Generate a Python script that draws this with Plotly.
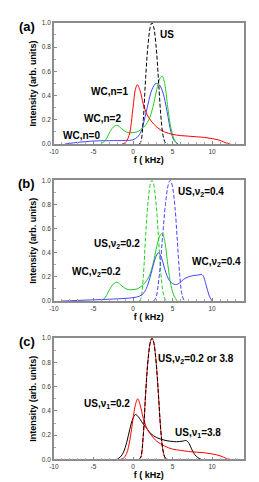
import plotly.graph_objects as go

# ---------- data ----------
# Panel (a)
us_a_f = [0.8, 1.0, 1.3, 1.6, 1.9, 2.2, 2.4, 2.6, 2.9, 3.2, 3.5, 3.8, 4.1, 4.4]
us_a_i = [0.0, 0.02, 0.2, 0.55, 0.82, 0.97, 1.0, 0.97, 0.82, 0.55, 0.25, 0.07, 0.01, 0.0]

wc1_f = [-1.4, -1.0, -0.5, 0.0, 0.3, 0.55, 0.9, 1.3, 1.8, 2.3, 3.0, 4.0, 5.0, 6.0, 7.0, 8.0, 9.0, 10.0, 11.0, 11.8, 12.3]
wc1_i = [0.0, 0.01, 0.07, 0.3, 0.45, 0.49, 0.44, 0.33, 0.24, 0.19, 0.14, 0.10, 0.08, 0.07, 0.065, 0.06, 0.055, 0.045, 0.03, 0.008, 0.0]

wc0_f = [-8.6, -7.5, -6.0, -5.0, -3.0, -1.0, 0.0, 0.6, 1.0, 1.4, 1.9, 2.4, 2.9, 3.3, 3.8, 4.3, 4.8, 5.2, 5.7]
wc0_i = [0.0, 0.01, 0.02, 0.025, 0.028, 0.03, 0.035, 0.06, 0.1, 0.19, 0.33, 0.45, 0.5, 0.49, 0.42, 0.27, 0.1, 0.03, 0.0]

wc2_f = [-4.1, -3.5, -3.0, -2.5, -2.0, -1.5, -1.0, -0.5, 0.0, 0.5, 1.0, 1.5, 2.0, 2.5, 3.0, 3.4, 3.7, 4.0, 4.4, 4.8, 5.2, 5.6]
wc2_i = [0.0, 0.03, 0.09, 0.14, 0.155, 0.13, 0.105, 0.093, 0.095, 0.1, 0.12, 0.15, 0.2, 0.3, 0.45, 0.54, 0.56, 0.5, 0.3, 0.13, 0.04, 0.0]

# Panel (b)
us02_f = [0.8, 1.0, 1.3, 1.6, 1.9, 2.2, 2.4, 2.6, 2.9, 3.2, 3.5, 3.8, 4.1, 4.4]
us02_i = [0.0, 0.02, 0.2, 0.55, 0.82, 0.97, 1.0, 0.97, 0.82, 0.55, 0.25, 0.07, 0.01, 0.0]

us04_f = [2.6, 2.9, 3.3, 3.7, 4.1, 4.45, 4.7, 4.95, 5.3, 5.6, 5.9, 6.2, 6.5]
us04_i = [0.0, 0.03, 0.2, 0.5, 0.8, 0.96, 1.0, 0.96, 0.78, 0.5, 0.22, 0.05, 0.0]

wc02_f = wc2_f
wc02_i = wc2_i

wc04_f = [-9.0, -7.0, -5.0, -3.0, -1.0, 0.0, 0.8, 1.4, 1.9, 2.3, 2.8, 3.2, 3.6, 3.9, 4.5, 5.0, 5.4, 5.9, 6.4, 7.0, 7.6, 8.2, 8.75, 9.25, 9.6, 10.0]
wc04_i = [0.0, 0.005, 0.01, 0.015, 0.022, 0.028, 0.04, 0.07, 0.14, 0.23, 0.35, 0.40, 0.36, 0.29, 0.18, 0.145, 0.136, 0.15, 0.18, 0.2, 0.21, 0.215, 0.217, 0.13, 0.05, 0.0]

# Panel (c)
usv2_f = us_a_f
usv2_i = us_a_i

usv1a_f = [-1.6, -1.2, -0.8, -0.4, 0.0, 0.3, 0.6, 0.9, 1.3, 1.8, 2.3, 3.0, 4.0, 5.0, 6.0, 7.0, 8.0, 9.0, 10.0, 11.0, 11.8, 12.3]
usv1a_i = [0.0, 0.01, 0.05, 0.16, 0.33, 0.45, 0.50, 0.45, 0.34, 0.25, 0.2, 0.15, 0.11, 0.085, 0.075, 0.065, 0.06, 0.055, 0.045, 0.03, 0.008, 0.0]

usv1b_f = [-2.1, -1.6, -1.2, -0.8, -0.4, 0.0, 0.3, 0.7, 1.2, 1.8, 2.3, 3.0, 3.9, 4.7, 5.5, 6.2, 6.75, 7.1, 7.4, 7.8, 8.2, 8.6]
usv1b_i = [0.0, 0.02, 0.06, 0.14, 0.25, 0.34, 0.37, 0.35, 0.3, 0.25, 0.21, 0.18, 0.16, 0.15, 0.146, 0.15, 0.155, 0.13, 0.087, 0.04, 0.015, 0.0]

y_ticks = [0.0, 0.2, 0.4, 0.6, 0.8, 1.0]
y_tick_text = ["0.0", "0.2", "0.4", "0.6", "0.8", "1.0"]
x_ticks = [-10, -5, 0, 5, 10]
x_tick_text = ["-10", "-5", "0", "5", "10"]

# ---------- figure ----------
W, H = 259, 482
fig = go.Figure()

RED = "#ff0000"
BLUE = "#4444ff"
GREEN = "#22cc22"
BLACK = "#000000"
DASH = "4px,2px"

def add(f, i, color, axis, dash="solid", width=1):
    fig.add_trace(go.Scatter(x=f, y=i, mode="lines", line=dict(color=color, width=width, dash=dash, shape="spline"),
                             xaxis="x" + axis, yaxis="y" + axis, showlegend=False, hoverinfo="skip"))

# (a)
add(wc0_f, wc0_i, BLUE, "")
add(wc2_f, wc2_i, GREEN, "")
add(wc1_f, wc1_i, RED, "")
add(us_a_f, us_a_i, BLACK, "", dash=DASH)
# (b)
add(us02_f, us02_i, GREEN, "2", dash=DASH)
add(us04_f, us04_i, BLUE, "2", dash=DASH)
add(wc02_f, wc02_i, GREEN, "2")
add(wc04_f, wc04_i, BLUE, "2")
# (c)
add(usv1b_f, usv1b_i, BLACK, "3")
add(usv1a_f, usv1a_i, RED, "3")
add(usv2_f, usv2_i, RED, "3")
add(usv2_f, usv2_i, BLACK, "3", dash=DASH)

x_dom = [41.7 / W, 235.3 / W]
y_doms = [[348 / H, 471 / H], [188.7 / H, 311.3 / H], [28 / H, 151 / H]]

axis_font = dict(family="Arial, Liberation Sans, sans-serif", size=6.5, color="#333333")
title_font = dict(family="Arial, Liberation Sans, sans-serif", size=9, color="#000000")

layout = dict(width=W, height=H, margin=dict(l=0, r=0, t=0, b=0),
              paper_bgcolor="white", plot_bgcolor="white", showlegend=False)

for k, sfx in enumerate(["", "2", "3"]):
    xa = "xaxis" + sfx
    ya = "yaxis" + sfx
    layout[xa] = dict(domain=x_dom, range=[-10, 14], anchor="y" + sfx,
                      tickvals=x_ticks, ticktext=x_tick_text, tickfont=axis_font,
                      ticks="inside", ticklen=3, tickcolor="#888888", tickwidth=1,
                      minor=dict(ticks="inside", ticklen=2, dtick=1, tickcolor="#aaaaaa"),
                      showline=True, linecolor="#8c8c8c", linewidth=1.5, mirror=True,
                      showgrid=False, zeroline=False, ticklabelstandoff=0,
                      title=dict(text="<b>f ( kHz)</b>", font=title_font, standoff=2))
    layout[ya] = dict(domain=y_doms[k], range=[0, 1.0], anchor="x" + sfx,
                      tickvals=y_ticks, ticktext=y_tick_text, tickfont=axis_font,
                      ticks="inside", ticklen=3, tickcolor="#888888", tickwidth=1,
                      minor=dict(ticks="inside", ticklen=2, dtick=0.1, tickcolor="#aaaaaa"),
                      showline=True, linecolor="#8c8c8c", linewidth=1.5, mirror=True,
                      showgrid=False, zeroline=False,
                      title=dict(text="<b>Intensity (arb. units)</b>", font=title_font, standoff=4))

fig.update_layout(**layout)

lab_font = dict(family="Arial, Liberation Sans, sans-serif", size=10, color="black")

def ann(text, x, y, axis):
    fig.add_annotation(text="<b>" + text + "</b>", x=x, y=y, xref="x" + axis, yref="y" + axis,
                       showarrow=False, font=lab_font, xanchor="center", yanchor="middle")

ann("US", 4.3, 0.905, "")
ann("WC,n=1", -3.0, 0.43, "")
ann("WC,n=2", -3.8, 0.209, "")
ann("WC,n=0", -6.5, 0.073, "")

ann("US,ν<sub>2</sub>=0.4", 8.6, 0.9, "2")
ann("US,ν<sub>2</sub>=0.2", -2.0, 0.475, "2")
ann("WC,ν<sub>2</sub>=0.2", -4.6, 0.237, "2")
ann("WC,ν<sub>2</sub>=0.4", 10.5, 0.326, "2")

ann("US,ν<sub>2</sub>=0.2 or 3.8", 7.9, 0.832, "3")
ann("US,ν<sub>1</sub>=0.2", -3.25, 0.46, "3")
ann("US,ν<sub>1</sub>=3.8", 8.2, 0.217, "3")

panel_font = dict(family="Arial, Liberation Sans, sans-serif", size=13, color="black")
for txt, ypx in [("(a)", 15), ("(b)", 174), ("(c)", 334)]:
    fig.add_annotation(text="<b>" + txt + "</b>", x=14 / W, y=1 - ypx / H, xref="paper", yref="paper",
                       showarrow=False, font=panel_font, xanchor="center", yanchor="middle")

fig.write_html("out.html")
